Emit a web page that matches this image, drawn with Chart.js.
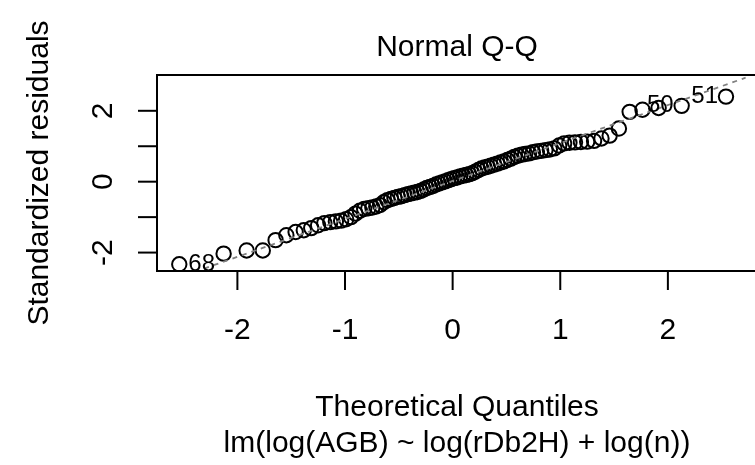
<!DOCTYPE html>
<html>
<head>
<meta charset="utf-8">
<script src="https://cdn.jsdelivr.net/npm/chart.js@4/dist/chart.umd.min.js"></script>
<style>
  body { margin: 0; background: #fff; }
  canvas { display: block; }
</style>
</head>
<body>
<canvas id="qq" width="755" height="465"></canvas>
<script>
// valores
const theoQuantiles = [
  -2.54, -2.128, -1.914, -1.764, -1.645, -1.545, -1.459, -1.383, -1.314, -1.25,
  -1.192, -1.137, -1.085, -1.036, -0.99, -0.945, -0.903, -0.862, -0.822, -0.783,
  -0.746, -0.71, -0.674, -0.64, -0.606, -0.573, -0.541, -0.509, -0.477, -0.446,
  -0.415, -0.385, -0.355, -0.326, -0.297, -0.268, -0.24, -0.21, -0.182, -0.154,
  -0.126, -0.098, -0.07, -0.042, -0.014,
  0.014, 0.042, 0.07, 0.098, 0.126, 0.154, 0.182, 0.21, 0.24, 0.268,
  0.297, 0.326, 0.355, 0.385, 0.415, 0.446, 0.477, 0.509, 0.541, 0.573,
  0.606, 0.64, 0.674, 0.71, 0.746, 0.783, 0.822, 0.862, 0.903, 0.945,
  0.99, 1.036, 1.085, 1.137, 1.192, 1.25, 1.314, 1.383, 1.459, 1.545,
  1.645, 1.764, 1.914, 2.128, 2.54
];
const stdResiduals = [
  -2.33, -2.03, -1.94, -1.94, -1.65, -1.51, -1.42, -1.37, -1.31, -1.23,
  -1.17, -1.14, -1.12, -1.10, -1.06, -1.00, -0.90, -0.82, -0.77, -0.75,
  -0.73, -0.70, -0.66, -0.58, -0.52, -0.49, -0.46, -0.43, -0.41, -0.38,
  -0.35, -0.33, -0.31, -0.29, -0.26, -0.22, -0.18, -0.15, -0.12, -0.08,
  -0.05, -0.02, 0.01, 0.04, 0.07,
  0.10, 0.12, 0.15, 0.17, 0.19, 0.21, 0.24, 0.28, 0.33, 0.37,
  0.40, 0.42, 0.45, 0.48, 0.51, 0.54, 0.57, 0.61, 0.65, 0.70,
  0.73, 0.76, 0.78, 0.80, 0.83, 0.85, 0.87, 0.89, 0.91, 0.94,
  1.02, 1.08, 1.10, 1.11, 1.12, 1.13, 1.15, 1.22, 1.30, 1.50,
  1.97, 2.03, 2.08, 2.14, 2.40
];
const idIndex = [0, 88, 89];
const idLabels = ["68", "50", "51"];
const xTicks = [-2, -1, 0, 1, 2];
const xTickLabels = ["-2", "-1", "0", "1", "2"];
const yTicks = [-2, -1, 0, 1, 2];
const yTickLabels = ["-2", "", "0", "", "2"];
const qqSlope = 1.07;
const qqIntercept = 0.02;

const titulo = "Normal Q-Q";
const tituloX = "Theoretical Quantiles";
const subtituloX = "lm(log(AGB) ~ log(rDb2H) + log(n))";
const tituloY = "Standardized residuals";

const xMin = -2.747, xMax = 2.724;
const yMin = -2.52, yMax = 3.01;
const fuente = '"Liberation Sans", Arial, Helvetica, sans-serif';
const tamFuente = 30;

const puntos = theoQuantiles.map((x, i) => ({ x: x, y: stdResiduals[i] }));
const lineaQQ = [xMin, xMax].map(x => ({ x: x, y: qqIntercept + qqSlope * x }));

const marco = {
  id: "marco",
  afterDraw(chart) {
    const { ctx, chartArea: a, scales } = chart;
    ctx.save();
    ctx.strokeStyle = "#000";
    ctx.lineWidth = 2;
    ctx.beginPath();
    ctx.moveTo(a.right + 10, a.top);
    ctx.lineTo(a.left, a.top);
    ctx.lineTo(a.left, a.bottom);
    ctx.lineTo(a.right + 10, a.bottom);
    ctx.stroke();

    ctx.fillStyle = "#000";
    ctx.font = tamFuente + "px " + fuente;

    // eje x
    ctx.textAlign = "center";
    ctx.textBaseline = "alphabetic";
    xTicks.forEach((v, i) => {
      const px = scales.x.getPixelForValue(v);
      ctx.beginPath();
      ctx.moveTo(px, a.bottom);
      ctx.lineTo(px, a.bottom + 19);
      ctx.stroke();
      ctx.fillText(xTickLabels[i], px, 339);
    });

    // eje y (etiquetas giradas)
    yTicks.forEach((v, i) => {
      const py = scales.y.getPixelForValue(v);
      ctx.beginPath();
      ctx.moveTo(a.left, py);
      ctx.lineTo(a.left - 19, py);
      ctx.stroke();
      if (yTickLabels[i]) {
        ctx.save();
        ctx.translate(112, py);
        ctx.rotate(-Math.PI / 2);
        ctx.fillText(yTickLabels[i], 0, 0);
        ctx.restore();
      }
    });

    // titulos
    ctx.fillText(titulo, 457, 56);
    ctx.fillText(tituloX, 457, 416);
    ctx.fillText(subtituloX, 457, 452);
    ctx.save();
    ctx.translate(48, (a.top + a.bottom) / 2);
    ctx.rotate(-Math.PI / 2);
    ctx.fillText(tituloY, 0, 0);
    ctx.restore();

    // etiquetas de puntos
    const meta = chart.getDatasetMeta(1);
    ctx.font = Math.round(tamFuente * 0.8) + "px " + fuente;
    ctx.textBaseline = "middle";
    idIndex.forEach((idx, k) => {
      const el = meta.data[idx];
      const izq = el.x < (a.left + a.right) / 2;
      ctx.textAlign = izq ? "left" : "right";
      ctx.fillText(idLabels[k], el.x + (izq ? 9 : -8), el.y);
    });
    ctx.restore();
  }
};

new Chart(document.getElementById("qq"), {
  type: "scatter",
  data: {
    datasets: [
      {
        type: "line",
        data: lineaQQ,
        borderColor: "#808080",
        borderWidth: 1.8,
        borderDash: [5, 5],
        pointRadius: 0,
        fill: false
      },
      {
        data: puntos,
        pointRadius: 7.2,
        pointBorderColor: "#000",
        pointBackgroundColor: "rgba(0,0,0,0)",
        pointBorderWidth: 2
      }
    ]
  },
  options: {
    responsive: false,
    animation: false,
    layout: { padding: { left: 157, top: 75, right: 0, bottom: 194 } },
    scales: {
      x: { type: "linear", min: xMin, max: xMax, display: false },
      y: { type: "linear", min: yMin, max: yMax, display: false }
    },
    plugins: { legend: { display: false }, tooltip: { enabled: false } }
  },
  plugins: [marco]
});
</script>
</body>
</html>
